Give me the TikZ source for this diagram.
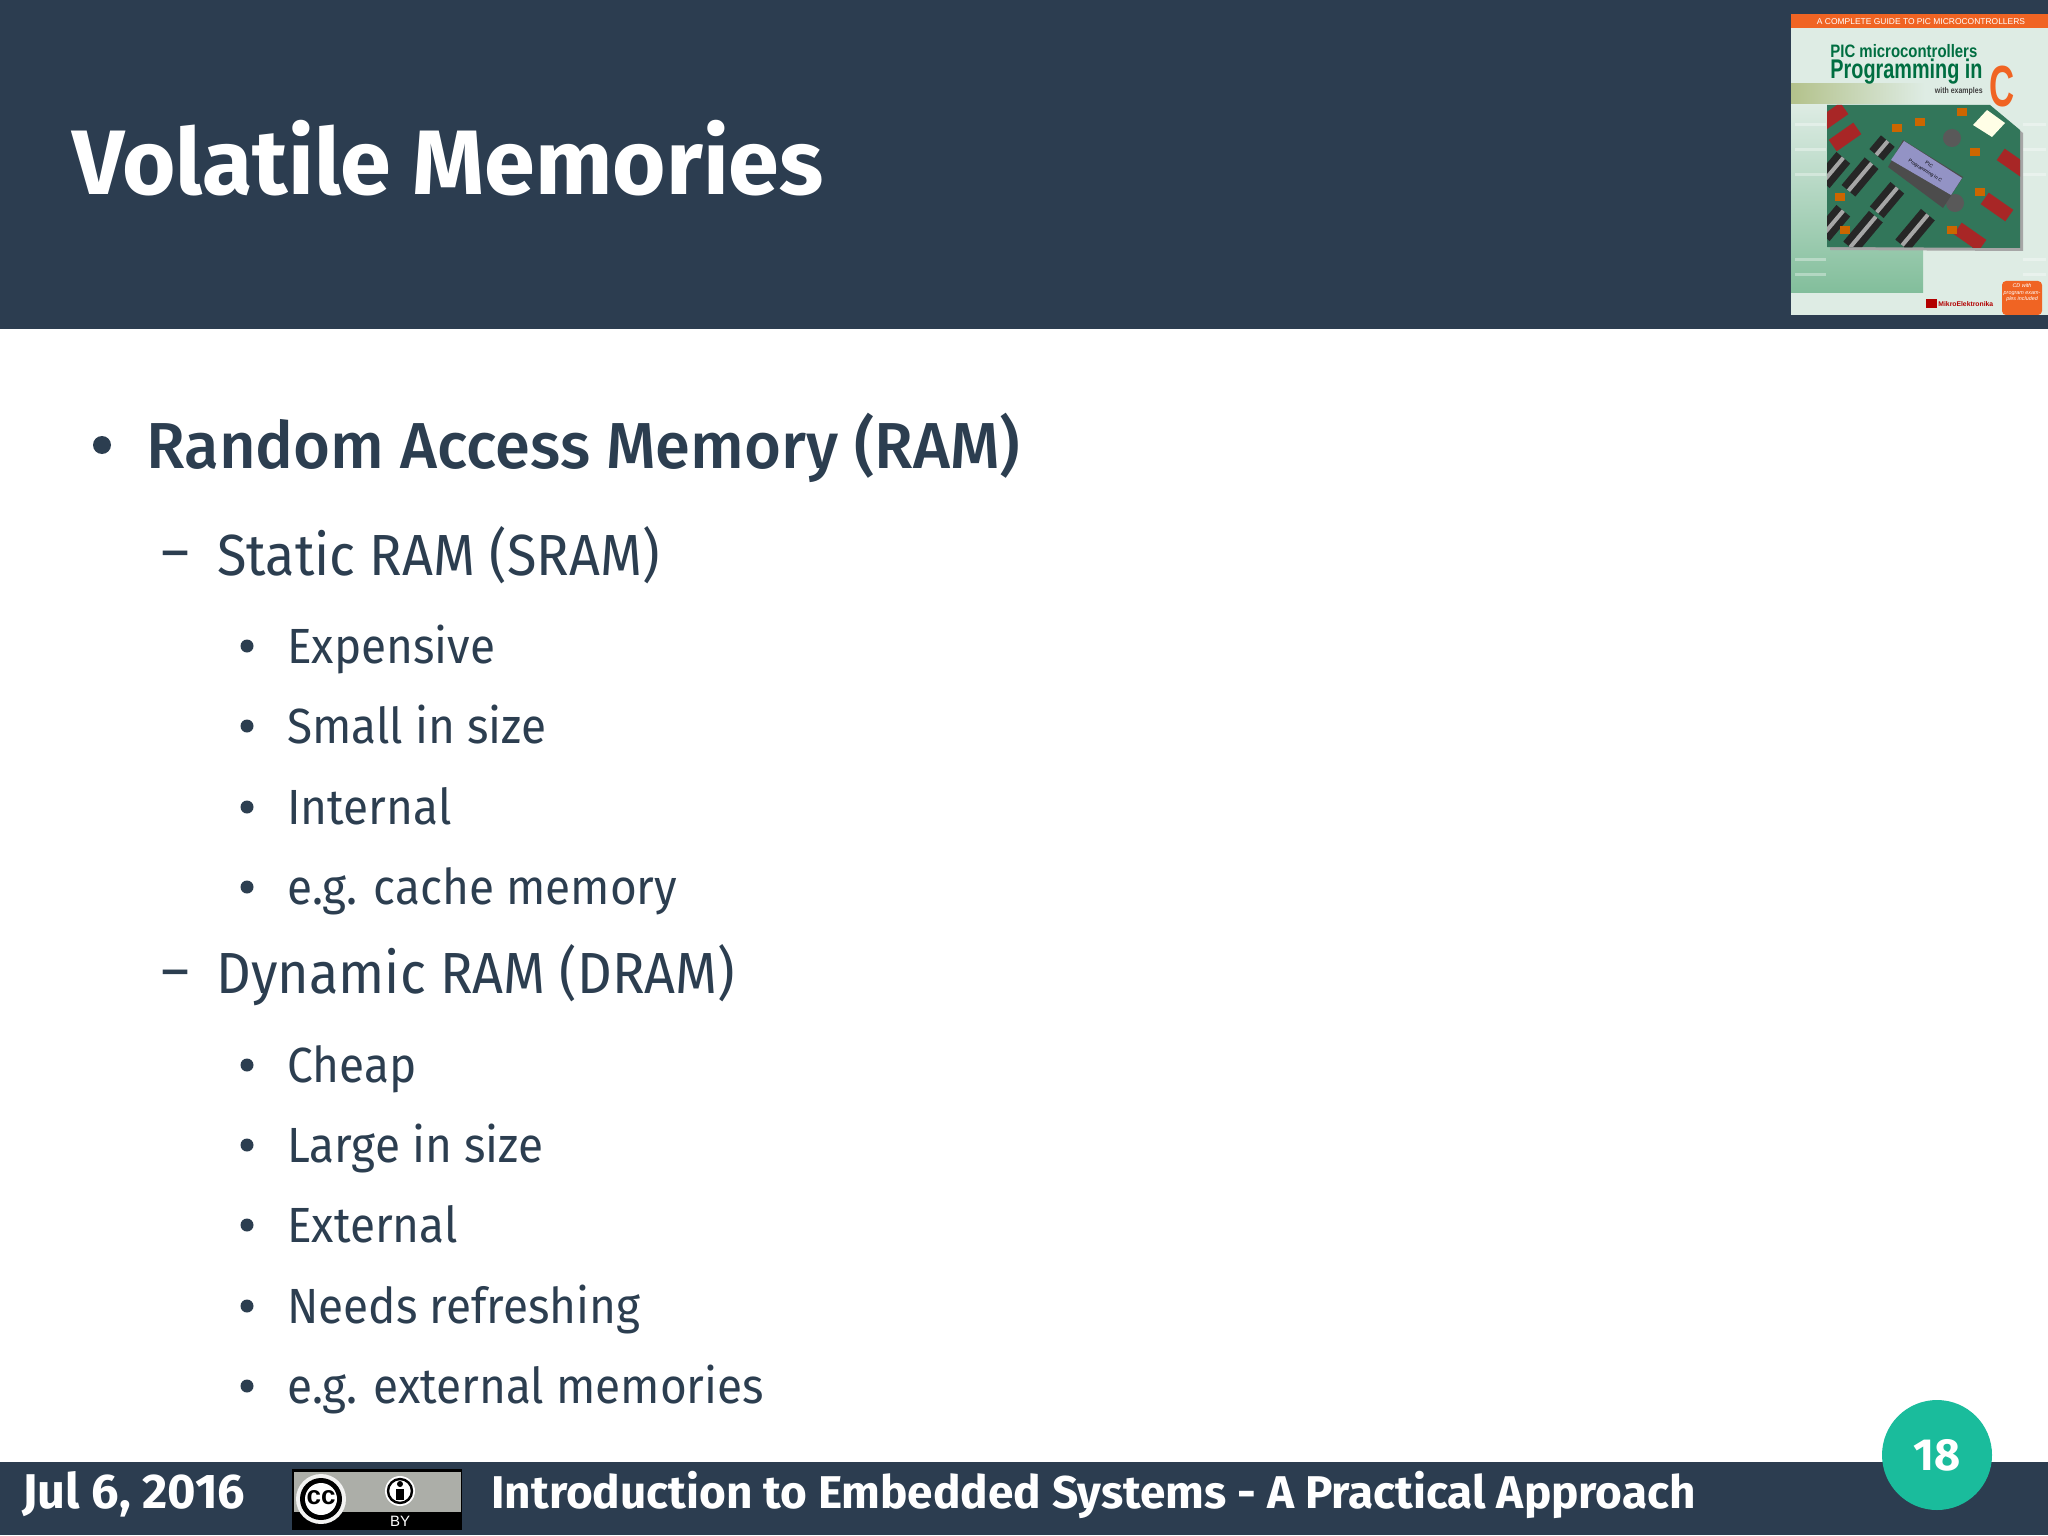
\documentclass[tikz,border=0pt]{standalone}
\usepackage{fontspec}
\setmainfont{Fira Sans}
\newfontfamily\slidefont[FakeStretch=0.93]{Fira Sans}
\newfontfamily\medfont[FakeStretch=0.975]{Fira Sans Medium}
\newfontfamily\coverfont{Liberation Sans}
\newfontfamily\coverthin[FakeStretch=0.83]{Liberation Sans}
\newfontfamily\covertight[FakeStretch=0.735]{Liberation Sans}
\newfontfamily\coverslim[FakeStretch=0.6]{Liberation Sans}
\usepackage{tikz}
\usetikzlibrary{positioning}
\definecolor{dfnavy}{RGB}{44,61,80}
\definecolor{dfgreen}{RGB}{26,188,156}
\definecolor{dfink}{RGB}{44,62,80}
\definecolor{cvorange}{RGB}{240,100,35}
\definecolor{cvpale}{RGB}{222,236,228}
\definecolor{cvgreen}{RGB}{130,190,155}
\definecolor{cvtitle}{RGB}{0,110,65}
\definecolor{cvboard}{RGB}{50,118,90}
\definecolor{badgegrey}{RGB}{172,174,168}
\tikzset{
    headtext/.style={anchor=base west, text=white, font=\bfseries\fontsize{45.8}{50}\selectfont},
    topitem/.style={anchor=base west, text=dfink, font=\medfont\fontsize{32.5}{36}\selectfont},
    subitem/.style={anchor=base west, text=dfink, font=\slidefont\fontsize{29}{34}\selectfont},
    leafitem/.style={anchor=base west, text=dfink, font=\slidefont\fontsize{24.7}{30}\selectfont},
    dashtext/.style={anchor=base, text=dfink, font=\slidefont\fontsize{29}{34}\selectfont},
    topdot/.style={circle, fill=dfink, minimum size=9pt, inner sep=0pt},
    leafdot/.style={circle, fill=dfink, minimum size=6.5pt, inner sep=0pt},
    foottext/.style={anchor=base west, text=white, font=\bfseries\fontsize{22.95}{26}\selectfont},
    chipbox/.style={fill=black!85},
    dipbox/.style={fill=red!60!black!85}
}

\begin{document}
\begin{tikzpicture}[x=0.5pt, y=-0.5pt]
\useasboundingbox (0,0) rectangle (2048,1535);

% Bands
\fill[white] (0,0) rectangle (2048,1535);
\fill[dfnavy] (0,0) rectangle (2048,329);
\fill[dfnavy] (0,1462) rectangle (2048,1535);

% Title
\node[headtext, inner sep=0pt] (title) at (72,195) {Volatile Memories};

% Book cover
\fill[cvpale] (1791,14) rectangle (2048,315);
\shade[top color=cvpale, bottom color=cvgreen] (1791,103) rectangle (1923,293);
\shade[left color=cvgreen!40!olive!60, right color=cvpale] (1791,84) rectangle (1925,104);
\fill[cvorange] (1791,14) rectangle (2048,28);
\foreach \ty in {125,150,175,260,275} {
    \draw[white, opacity=0.35, line width=1.5pt] (1795,\ty) -- (1826,\ty);
    \draw[white, opacity=0.35, line width=1.5pt] (2023,\ty) -- (2046,\ty);
}
\node[inner sep=0pt, text=white, font=\coverfont\fontsize{4.23}{5}\selectfont] (covertop) at (1921,22) {A COMPLETE GUIDE TO PIC MICROCONTROLLERS};
\node[anchor=base west, inner sep=0pt, text=cvtitle, font=\coverthin\bfseries\fontsize{9}{10}\selectfont] (coverpic) at (1830,58) {PIC microcontrollers};
\node[anchor=base west, inner sep=0pt, text=cvtitle, font=\covertight\bfseries\fontsize{13.5}{14}\selectfont] (coverprog) at (1830,79) {Programming in};
\node[anchor=base east, inner sep=0pt, text=black!75, font=\coverthin\bfseries\fontsize{4.2}{5}\selectfont] (coverex) at (1983,94) {with examples};
\node[anchor=base, inner sep=0pt, text=cvorange, font=\coverslim\bfseries\fontsize{29}{30}\selectfont] (coverc) at (2002,107) {C};

% Board photo
\fill[black!35] (1830,108) -- (1992,108) -- (2023,133) -- (2023,251) -- (1830,250) -- cycle;
\fill[cvboard] (1827,105) -- (1990,105) -- (2020,130) -- (2020,248) -- (1827,247) -- cycle;
\begin{scope}
\clip (1827,105) -- (1990,105) -- (2020,130) -- (2020,248) -- (1827,247) -- cycle;
\foreach \cx/\cy/\clen in {1860/177/18,1887/200/16,1863/232/20,1915/230/20,1882/148/9,1833/170/16,1833/223/16} {
    \begin{scope}[shift={(\cx,\cy)}, rotate=50]
    \fill[chipbox] (-\clen,-9) rectangle (\clen,9);
    \fill[black!35] (-\clen,-2) rectangle (\clen,2);
    \end{scope}
}
\foreach \cx/\cy/\cang in {1845/137/35,1832/117/35,1997/207/-35,1970/237/-35,2013/163/-35} {
    \begin{scope}[shift={(\cx,\cy)}, rotate=\cang]
    \fill[dipbox] (-15,-7) rectangle (15,7);
    \end{scope}
}
\fill[white!90!yellow] (1973,125) -- (1987,110) -- (2005,123) -- (1992,137) -- cycle;
\foreach \cx/\cy in {1952/138,1955/203} {
    \fill[black!65] (\cx,\cy) circle[radius=9];
}
\foreach \cx/\cy in {1897/128,1920/122,1962/112,1975/152,1840/197,1845/230,1980/192,1952/230} {
    \fill[orange!80!black] (\cx-5,\cy-4) rectangle (\cx+5,\cy+4);
}
\end{scope}
\fill[black!70] (1888,167) -- (1903,140) -- (1963,177) -- (1943,208) -- cycle;
\fill[blue!30!gray!65] (1891,160) -- (1904,141) -- (1962,178) -- (1951,195) -- cycle;
\node[rotate=-32, inner sep=0pt, align=center, font=\coverfont\fontsize{2.4}{3.6}\selectfont] (lcdtext) at (1927,168) {PIC\\Programming in C};

% Cover logo and CD box
\fill[red!70!black] (1926,299) rectangle (1937,308);
\node[anchor=west, inner sep=0pt, text=red!70!black, font=\coverfont\bfseries\fontsize{3.4}{4}\selectfont] (coverlogo) at (1938,304) {MikroElektronika};
\fill[cvorange, rounded corners=2pt] (2002,281) rectangle (2042,315);
\node[inner sep=0pt, align=center, text=white, font=\coverfont\itshape\fontsize{2.7}{3.3}\selectfont] (covercd) at (2022,293) {CD with\\program exam-\\ples included};

% RAM heading
\node[topdot] (bulletram) at (102,445) {};
\node[topitem, inner sep=0pt] (ram) at (146,468) {Random Access Memory (RAM)};

% SRAM
\node[dashtext, inner sep=0pt] (dashsram) at (176,571) {–};
\node[subitem, inner sep=0pt] (sram) at (217,575) {Static RAM (SRAM)};
\foreach \ly/\ltext [count=\li] in {663/Expensive,743/Small in size,824/Internal,904/e.g. cache memory} {
    \node[leafdot] (sbullet\li) at (247,\ly-17) {};
    \node[leafitem, inner sep=0pt] (sleaf\li) at (287,\ly) {\ltext};
}

% DRAM
\node[dashtext, inner sep=0pt] (dashdram) at (176,990) {–};
\node[subitem, inner sep=0pt] (dram) at (216,993) {Dynamic RAM (DRAM)};
\foreach \ly/\ltext [count=\li] in {1082/Cheap,1162/Large in size,1242/External,1323/Needs refreshing,1403/e.g. external memories} {
    \node[leafdot] (dbullet\li) at (247,\ly-17) {};
    \node[leafitem, inner sep=0pt] (dleaf\li) at (287,\ly) {\ltext};
}

% Footer
\node[foottext, inner sep=0pt, font=\bfseries\fontsize{24.4}{26}\selectfont] (date) at (22,1508) {Jul 6, 2016};
\node[foottext, inner sep=0pt] (course) at (491,1508) {Introduction to Embedded Systems - A Practical Approach};

% CC badge
\fill[black] (292,1469) rectangle (462,1530);
\fill[badgegrey] (294,1472) rectangle (461,1512);
\fill[white!85!badgegrey] (321,1499) circle[radius=25];
\fill[black] (321,1499) circle[radius=21];
\fill[white] (321,1499) circle[radius=16];
\node[inner sep=0pt, font=\coverfont\bfseries\fontsize{13}{14}\selectfont] (badgecc) at (321,1498) {cc};
\fill[white] (400,1491) circle[radius=15];
\draw[black, line width=1.2pt] (400,1491) circle[radius=12];
\fill[black] (400,1484) circle[radius=3];
\fill[black] (396,1489) rectangle (404,1500);
\node[inner sep=0pt, text=white, font=\coverfont\fontsize{7.5}{8}\selectfont] (badgeby) at (400,1521) {BY};

% Page number
\node[circle, fill=dfgreen, minimum size=55pt, inner sep=0pt, text=white, font=\bfseries\fontsize{22.5}{24}\selectfont] (page) at (1937,1455) {18};

\end{tikzpicture}
\end{document}
